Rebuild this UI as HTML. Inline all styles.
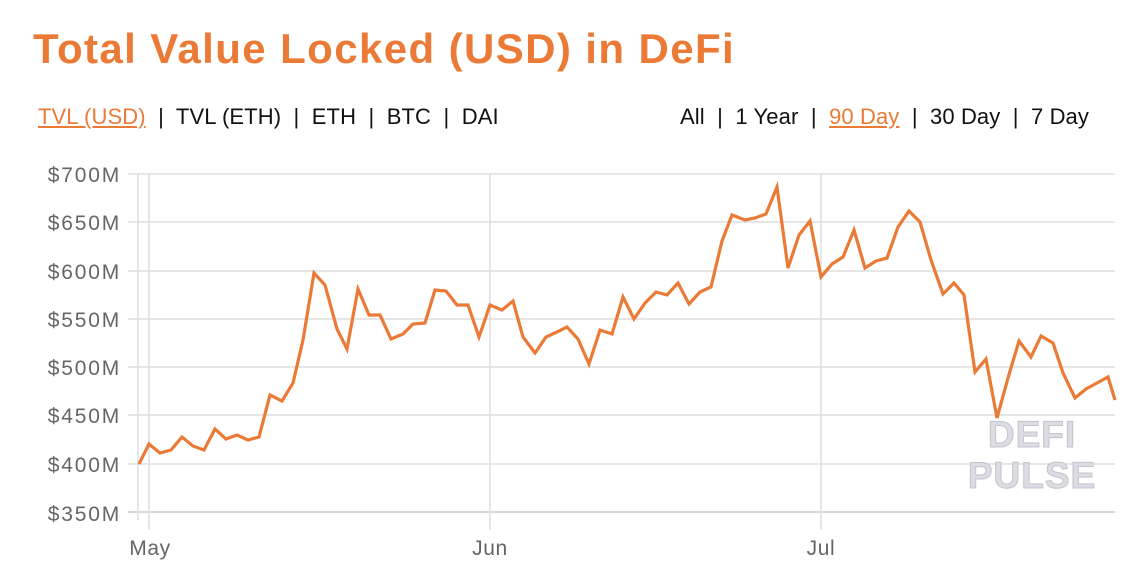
<!DOCTYPE html>
<html><head><meta charset="utf-8"><style>
body{margin:0;background:#fff;width:1148px;height:574px;overflow:hidden;font-family:"Liberation Sans",sans-serif}
.t{position:absolute;left:33px;top:25px;font-size:42px;font-weight:bold;color:#ea7a36;letter-spacing:1.4px}
.nav{position:absolute;top:104px;font-size:22px;color:#111;white-space:pre;letter-spacing:0.1px}
.nav u{color:#ea7a36;text-decoration:underline}
</style></head><body>
<div class="t">Total Value Locked (USD) in DeFi</div>
<div class="nav" style="left:38px"><u>TVL (USD)</u>  |  TVL (ETH)  |  ETH  |  BTC  |  DAI</div>
<div class="nav" style="right:59px">All  |  1 Year  |  <u>90 Day</u>  |  30 Day  |  7 Day</div>
<svg width="1148" height="574" style="position:absolute;left:0;top:0">
<g stroke="#ddd" stroke-width="1.5">
<line x1="128" x2="1115" y1="174" y2="174"/><line x1="128" x2="1115" y1="222" y2="222"/>
<line x1="128" x2="1115" y1="271" y2="271"/><line x1="128" x2="1115" y1="319" y2="319"/>
<line x1="128" x2="1115" y1="367" y2="367"/><line x1="128" x2="1115" y1="415" y2="415"/>
<line x1="128" x2="1115" y1="464" y2="464"/><line x1="128" x2="1115" y1="512" y2="512" stroke="#ccc"/>
<line x1="138" x2="138" y1="174" y2="520"/><line x1="149" x2="149" y1="174" y2="530"/>
<line x1="490" x2="490" y1="174" y2="530"/><line x1="821" x2="821" y1="174" y2="530"/>
</g>
<g font-size="21" fill="#666" text-anchor="end" letter-spacing="1.8">
<text x="121" y="182">$700M</text><text x="121" y="230">$650M</text><text x="121" y="279">$600M</text>
<text x="121" y="327">$550M</text><text x="121" y="375">$500M</text><text x="121" y="423">$450M</text>
<text x="121" y="472">$400M</text><text x="121" y="521">$350M</text>
</g>
<g font-size="21" fill="#666" text-anchor="middle" letter-spacing="0.6">
<text x="150" y="555">May</text><text x="490" y="555">Jun</text><text x="821" y="555">Jul</text>
</g>
<g font-size="37" font-weight="bold" fill="#dcdce4" stroke="#c4c4cc" stroke-width="1" text-anchor="middle" letter-spacing="1">
<text x="1032" y="447">DEFI</text><text x="1032" y="488">PULSE</text>
</g>
<polyline fill="none" stroke="#ea7a36" stroke-width="3.2" points="139,464 149,444 160,453 171,450 182,437 193,446 204,450 215,429 226,439 237,435 248,440 259,437 270,395 282,401 293,383 303,340 314,273 325,285 337,329 347,349 358,289 369,315 380,315 391,339 403,334 413,324 425,323 435,290 446,291 457,305 468,305 479,337 490,305 502,310 513,301 523,337 535,353 546,337 557,332 567,327 578,339 589,364 600,330 612,334 623,297 634,319 645,303 656,292 667,295 678,283 689,304 700,292 711,287 722,241 732,215 745,220 755,218 766,214 777,187 788,268 799,235 810,221 821,277 832,264 843,257 854,230 865,268 876,261 887,258 898,227 909,211 920,222 931,260 943,294 954,283 964,295 975,372 986,359 997,418 1008,378 1019,341 1031,357 1041,336 1053,343 1063,373 1075,398 1086,389 1097,383 1108,377 1115,400"/>
</svg>
</body></html>
